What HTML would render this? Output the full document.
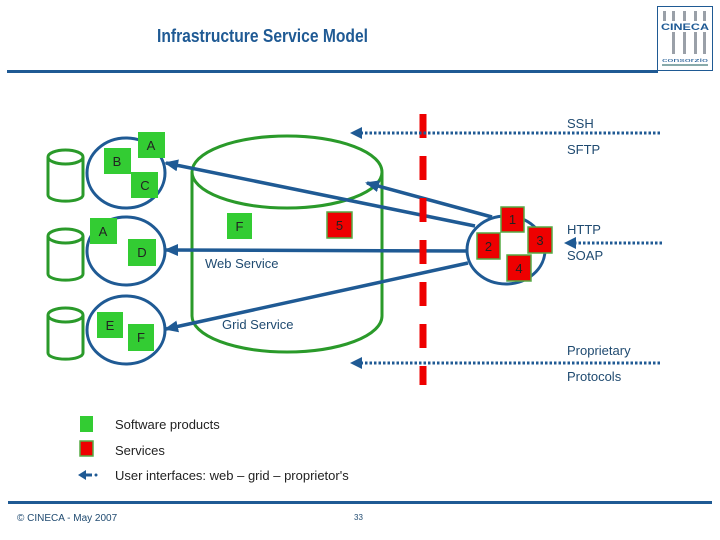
<!DOCTYPE html>
<html><head><meta charset="utf-8"><style>
html,body{margin:0;padding:0;background:#fff;}
svg{display:block;font-family:"Liberation Sans",Arial,sans-serif;}
</style></head><body>
<svg width="720" height="540" viewBox="0 0 720 540" xmlns="http://www.w3.org/2000/svg">
<defs>
<marker id="ah" markerWidth="14" markerHeight="12" refX="12" refY="6" orient="auto" markerUnits="userSpaceOnUse">
<path d="M0,0 L14,6 L0,12 Z" fill="#1f5a94"/></marker>
</defs>
<!-- title -->
<text x="157" y="42" font-size="18" font-weight="bold" fill="#1f5a94" textLength="211" lengthAdjust="spacingAndGlyphs">Infrastructure Service Model</text>
<rect x="7" y="70" width="651" height="3" fill="#1f5a94"/>
<!-- logo -->
<rect x="657.5" y="6.5" width="55" height="64" fill="#fff" stroke="#1f5a94" stroke-width="1"/>
<g fill="#9aa0a8">
<rect x="663" y="11" width="3" height="10"/><rect x="672" y="11" width="3" height="10"/><rect x="683" y="11" width="3" height="10"/><rect x="694" y="11" width="3" height="10"/><rect x="703" y="11" width="3" height="10"/>
<rect x="672" y="32" width="3" height="22"/><rect x="683" y="32" width="3" height="22"/><rect x="694" y="32" width="3" height="22"/><rect x="703" y="32" width="3" height="22"/>
</g>
<text x="661" y="30" font-size="9" font-weight="bold" fill="#1f5a94" textLength="48" lengthAdjust="spacingAndGlyphs">CINECA</text>
<text x="662" y="62" font-size="5" fill="#1f5a94" textLength="46" lengthAdjust="spacingAndGlyphs">consorzio</text>
<rect x="662" y="64" width="46" height="2" fill="#8aa"/>
<!-- left DB cylinders -->
<g fill="none" stroke="#2a9a2a" stroke-width="3">
<path d="M48,157 v38 a17,6 0 0 0 35,0 v-38"/><ellipse cx="65.5" cy="157" rx="17.5" ry="7"/>
<path d="M48,236 v38 a17,6 0 0 0 35,0 v-38"/><ellipse cx="65.5" cy="236" rx="17.5" ry="7"/>
<path d="M48,315 v38 a17,6 0 0 0 35,0 v-38"/><ellipse cx="65.5" cy="315" rx="17.5" ry="7"/>
</g>
<!-- main cylinder -->
<g fill="none" stroke="#2a9a2a" stroke-width="3">
<ellipse cx="287" cy="172" rx="95" ry="36"/>
<path d="M192,172 V316 A95,36 0 0 0 382,316 V172"/>
</g>
<!-- circles -->
<g fill="none" stroke="#1f5a94" stroke-width="3">
<ellipse cx="126" cy="173" rx="39" ry="35"/>
<ellipse cx="126" cy="251" rx="39" ry="34"/>
<ellipse cx="126" cy="330" rx="39" ry="34"/>
<ellipse cx="506" cy="250" rx="39" ry="34"/>
</g>
<!-- green squares -->
<g fill="#33cc33">
<rect x="138" y="132" width="27" height="26"/>
<rect x="104" y="148" width="27" height="26"/>
<rect x="131" y="172" width="27" height="26"/>
<rect x="90" y="218" width="27" height="26"/>
<rect x="128" y="239" width="28" height="27"/>
<rect x="97" y="312" width="26" height="26"/>
<rect x="128" y="324" width="26" height="27"/>
<rect x="227" y="213" width="25" height="26"/>
<rect x="80" y="416" width="13" height="16"/>
</g>
<g font-size="13" fill="#222" text-anchor="middle">
<text x="151" y="150">A</text><text x="117" y="166">B</text><text x="145" y="190">C</text>
<text x="103" y="236">A</text><text x="142" y="257">D</text>
<text x="110" y="330">E</text><text x="141" y="342">F</text>
<text x="239.5" y="231">F</text>
</g>
<!-- connectors -->
<g stroke="#1f5a94" stroke-width="3.5" fill="none">
<line x1="492" y1="217" x2="367" y2="183" marker-end="url(#ah)"/>
<line x1="475" y1="226" x2="166" y2="163" marker-end="url(#ah)"/>
<line x1="468" y1="251" x2="166" y2="250" marker-end="url(#ah)"/>
<line x1="468" y1="263" x2="166" y2="329" marker-end="url(#ah)"/>
</g>
<!-- red squares -->
<g fill="#ee0000" stroke="#55aa44" stroke-width="1.5">
<rect x="327" y="212" width="25" height="26"/>
<rect x="501" y="207" width="23" height="25"/>
<rect x="477" y="233" width="23" height="26"/>
<rect x="528" y="227" width="24" height="26"/>
<rect x="507" y="255" width="24" height="26"/>
<rect x="80" y="441" width="13" height="15"/>
</g>
<g font-size="13" fill="#222" text-anchor="middle">
<text x="339.5" y="230">5</text><text x="512.5" y="224">1</text><text x="488.5" y="251">2</text><text x="540" y="245">3</text><text x="519" y="273">4</text>
</g>
<!-- red dashed line -->
<line x1="423" y1="114" x2="423" y2="385" stroke="#ee0000" stroke-width="7" stroke-dasharray="24 18"/>
<!-- dotted arrows -->
<g stroke="#1f5a94" stroke-width="3" fill="none" stroke-dasharray="2.5 2">
<line x1="660" y1="133" x2="362" y2="133"/>
<line x1="660" y1="363" x2="362" y2="363"/>
<line x1="662" y1="243" x2="576" y2="243"/>
</g>
<path d="M362,127 L350,133 L362,139 Z" fill="#1f5a94"/>
<path d="M362,357 L350,363 L362,369 Z" fill="#1f5a94"/>
<path d="M576,237 L564,243 L576,249 Z" fill="#1f5a94"/>
<!-- labels -->
<g font-size="13" fill="#1f4a70">
<text x="567" y="128">SSH</text>
<text x="567" y="154">SFTP</text>
<text x="567" y="234">HTTP</text>
<text x="567" y="260">SOAP</text>
<text x="567" y="355">Proprietary</text>
<text x="567" y="381">Protocols</text>
<text x="205" y="268">Web Service</text>
<text x="222" y="329">Grid Service</text>
</g>
<!-- legend -->
<g font-size="13" fill="#222">
<text x="115" y="429">Software products</text>
<text x="115" y="455">Services</text>
<text x="115" y="480">User interfaces: web – grid – proprietor's</text>
</g>
<path d="M78,475 L86,470 L86,480 Z" fill="#1f5a94"/>
<line x1="86" y1="475" x2="92" y2="475" stroke="#1f5a94" stroke-width="3"/>
<circle cx="96" cy="475" r="1.5" fill="#1f5a94"/>
<!-- footer -->
<rect x="8" y="501" width="704" height="3" fill="#1f5a94"/>
<text x="17" y="521" font-size="10" fill="#1f4a70">© CINECA - May  2007</text>
<text x="354" y="520" font-size="8" fill="#1f4a70">33</text>
</svg>
</body></html>
